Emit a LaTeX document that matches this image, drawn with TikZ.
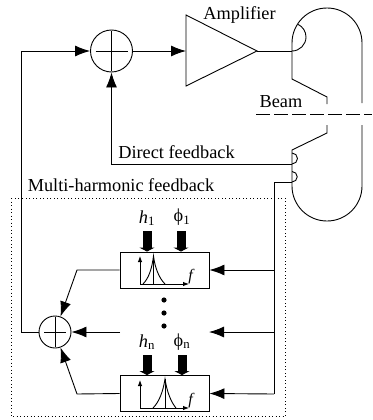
\documentclass[tikz,border=0pt]{standalone}
\usepackage{fontspec}
\setmainfont{Liberation Serif}
\usetikzlibrary{arrows.meta}
\tikzset{
  sumnode/.style={circle,draw,minimum size=#1,path picture={
      \draw[shorten >=5pt,shorten <=5pt] (path picture bounding box.west) -- (path picture bounding box.east);
      \draw[shorten >=1pt,shorten <=1pt] (path picture bounding box.north) -- (path picture bounding box.south);}},
  filterbox/.style={draw,minimum width=89pt,minimum height=36pt},
  wire/.style={line width=0.9pt,-{Latex[length=15pt,width=11pt]}},
  plain/.style={line width=0.9pt},
  knob/.style={line width=9pt,-{Triangle[length=4pt,width=15pt]}},
  axisline/.style={line width=0.9pt,-{Latex[length=6pt,width=4.5pt]}},
}
\begin{document}
\begin{tikzpicture}
   [x=1pt,y=-1pt,every node/.style={inner sep = 0pt},font=\fontsize{18.3}{20}\selectfont]
\useasboundingbox (0,0) rectangle (372,420);

%%%%%%%%%%%%%%%%%%%%%%%%%%%%%%%%%%%%%%%%%%%%%%%%%%%%%%%%%%%%%%%
% Main loop
%%%%%%%%%%%%%%%%%%%%%%%%%%%%%%%%%%%%%%%%%%%%%%%%%%%%%%%%%%%%%%%
\node[sumnode=42pt,line width=0.9pt](sum1) at (111.5,51) {};
\coordinate (amp_in) at (186,51);
\coordinate (amp_out) at (257,51);
\coordinate (fb_corner) at (21.5,51);
\draw[plain] (186,15) -- (amp_out) -- (186,86) -- cycle;
\node[] (amp_label) at (239.5,15) {Amplifier};

\draw[wire] (sum1) -- (amp_in);
\draw[wire] (fb_corner) -- (sum1);

% Cavity
\coordinate (cav_in) at (292,51);
\draw[plain] (amp_out) -- (cav_in);
\draw[plain] (292,43) arc (180:360:35) -- (362,103);
\draw[plain] (362,125) -- (362,186) arc (0:180:35) -- (292,150) -- (327,133) -- (327,125);
\draw[plain] (292,43) -- (292,79) -- (327,97) -- (327,104);
\draw[plain] (cav_in) arc (90:-65:14);
\draw[plain] (292,153) arc (-90:90:5.5);
\draw[plain] (292,171.5) arc (-90:90:5.25);

% Beam
\draw[plain,dash pattern=on 14pt off 4pt] (256,114.5) -- (372,114.5);
\node[] (beam_label) at (281,102) {Beam};

%%%%%%%%%%%%%%%%%%%%%%%%%%%%%%%%%%%%%%%%%%%%%%%%%%%%%%%%%%%%%%%
% Direct feedback
%%%%%%%%%%%%%%%%%%%%%%%%%%%%%%%%%%%%%%%%%%%%%%%%%%%%%%%%%%%%%%%
\coordinate (direct_in) at (292,164);
\coordinate (direct_corner) at (111.5,164);
\draw[wire] (direct_in) -- (direct_corner) -- (sum1);
\node[] (direct_label) at (176.5,152) {Direct feedback};

%%%%%%%%%%%%%%%%%%%%%%%%%%%%%%%%%%%%%%%%%%%%%%%%%%%%%%%%%%%%%%%
% Multi-harmonic feedback
%%%%%%%%%%%%%%%%%%%%%%%%%%%%%%%%%%%%%%%%%%%%%%%%%%%%%%%%%%%%%%%
\draw[line width=0.9pt,dash pattern=on 1pt off 2.5pt] (11,198) rectangle (285,416.5);
\node[] (multi_label) at (121,185) {Multi-harmonic feedback};

\node[filterbox,line width=0.9pt](box1) at (164.5,270) {};
\node[filterbox,line width=0.9pt](box2) at (164.5,393.5) {};
\node[sumnode=32pt,line width=0.9pt](sum2) at (55,332) {};

% Pick-up line
\coordinate (pick_in) at (292,182);
\coordinate (pick_top) at (274,182);
\coordinate (pick_1) at (274,270);
\coordinate (pick_m) at (274,332);
\coordinate (pick_2) at (274,394);
\draw[plain] (pick_in) -- (pick_top) -- (pick_2);
\draw[wire] (pick_1) -- (box1.east);
\draw[wire] (pick_2) -- (box2.east);
\coordinate (mid_r) at (209,332);
\draw[wire] (pick_m) -- (mid_r);

% Outputs to the adder
\coordinate (out_1) at (77,270);
\coordinate (out_2) at (77,394);
\coordinate (mid_l) at (120,332);
\draw[wire] (box1.west) -- (out_1) -- (sum2);
\draw[wire] (box2.west) -- (out_2) -- (sum2);
\draw[wire] (mid_l) -- (sum2);

% Back to the first adder
\draw[plain] (sum2) -- (21.5,332) -- (fb_corner);

% Dots
\foreach \ypos in {300,313,326}
  \fill (164,\ypos) circle (2.6);

% Harmonic number and phase
\node[] (h1) at (147,218) {\textit{h}\textsubscript{1}};
\node[] (p1) at (182,217.5) {ϕ\textsubscript{1}};
\node[] (hn) at (147,342) {\textit{h}\textsubscript{n}};
\node[] (pn) at (182,342) {ϕ\textsubscript{n}};
\coordinate (h1_t) at (147,231);
\coordinate (p1_t) at (181,231);
\coordinate (hn_t) at (147,355);
\coordinate (pn_t) at (182,355);
\draw[knob] (h1_t) -- (h1_t |- box1.north);
\draw[knob] (p1_t) -- (p1_t |- box1.north);
\draw[knob] (hn_t) -- (hn_t |- box2.north);
\draw[knob] (pn_t) -- (pn_t |- box2.north);

% Filter curve, box 1
\coordinate (o1) at (140,284);
\draw[axisline] (o1) -- (140,256);
\draw[axisline] (o1) -- (189,284);
\draw[plain] (153.5,256) -- (153.5,284);
\draw[plain] (143,284) .. controls (149,278) and (152,268) .. (153.5,256) .. controls (155,268) and (159,278) .. (165,284);
\node[] (f1) at (191.5,277) {\fontsize{16}{16}\selectfont\textit{f}};

% Filter curve, box 2
\coordinate (o2) at (140,408);
\draw[axisline] (o2) -- (140,380);
\draw[axisline] (o2) -- (189,408);
\draw[plain] (165,379) -- (165,408);
\draw[plain] (153,408) .. controls (159,402) and (163,392) .. (165,379) .. controls (167,392) and (171,402) .. (176,408);
\node[] (f2) at (191.5,401) {\fontsize{16}{16}\selectfont\textit{f}};

\end{tikzpicture}
\end{document}
